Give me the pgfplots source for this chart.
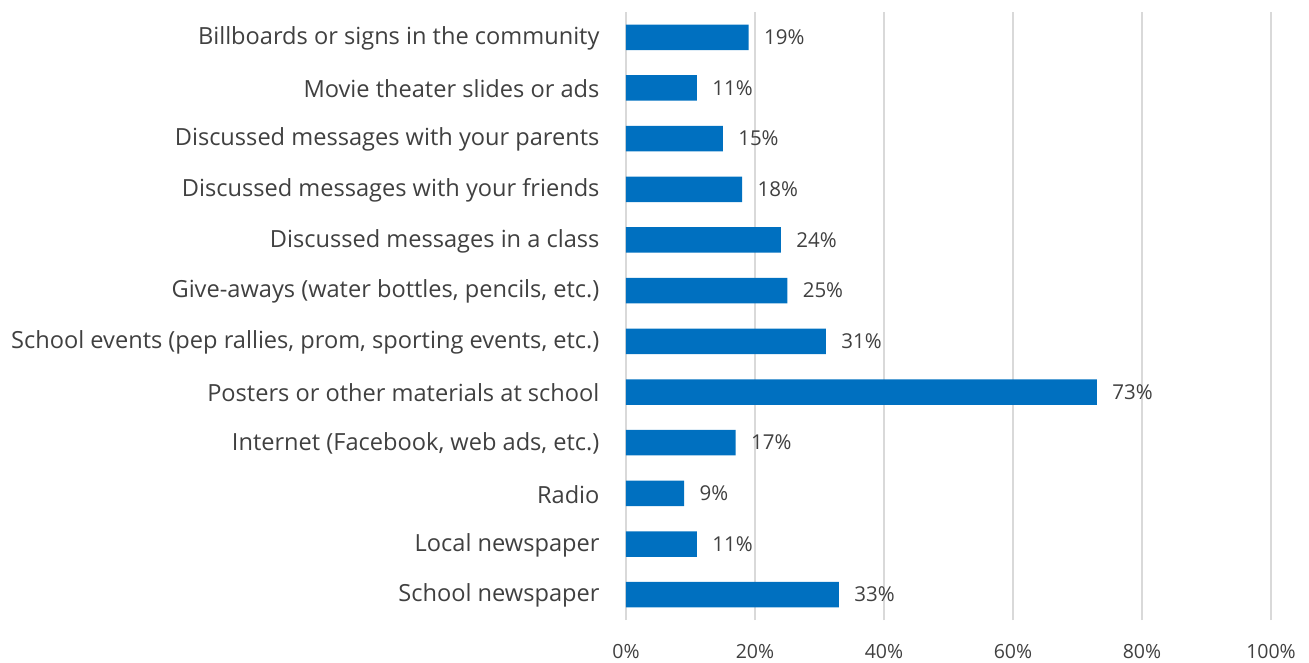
\documentclass[border=0pt]{standalone}
\usepackage{pgfplots}
\pgfplotsset{compat=1.18}
\usepackage{fontspec}
\setmainfont{Open Sans}
\definecolor{barblue}{HTML}{0070C0}
\definecolor{txt}{HTML}{404040}
\definecolor{gridgray}{HTML}{D9D9D9}
\begin{document}
\begin{tikzpicture}[x=1pt,y=1pt]
\useasboundingbox (0,0) rectangle (1309,662);
\begin{axis}[
  at={(626pt,42pt)}, anchor=south west,
  scale only axis, width=645pt, height=608pt,
  xbar, bar width=25.5pt,
  xmin=0, xmax=100, ymin=-0.5, ymax=11.5,
  xtick={0,20,40,60,80,100},
  xticklabel={\pgfmathprintnumber{\tick}\%},
  /pgf/number format/assume math mode=true,
  ytick={0,...,11},
  yticklabels={School newspaper, Local newspaper, Radio, {Internet (Facebook, web ads, etc.)}, Posters or other materials at school, {School events (pep rallies, prom, sporting events, etc.)}, {Give-aways (water bottles, pencils, etc.)}, Discussed messages in a class, Discussed messages with your friends, Discussed messages with your parents, Movie theater slides or ads, Billboards or signs in the community},
  xmajorgrids=true, ymajorgrids=false,
  grid style={draw=gridgray, line width=1.5pt},
  axis line style={draw=none},
  major tick style={draw=none},
  major tick length=0pt,
  yticklabel style={font=\fontsize{23.6}{25}\selectfont, text=txt, xshift=-23pt, yshift=-1pt},
  xticklabel style={font=\fontsize{19.5}{21}\selectfont, text=txt, yshift=-21pt},
  nodes near coords={\pgfmathprintnumber{\pgfplotspointmeta}\%},
  nodes near coords style={font=\fontsize{20.5}{22}\selectfont, text=txt, anchor=west, xshift=12pt},
  point meta=x,
  clip=false,
]
\addplot[fill=barblue, draw=none] coordinates {
(33,0) (11,1) (9,2) (17,3) (73,4) (31,5) (25,6) (24,7) (18,8) (15,9) (11,10) (19,11)
};
\end{axis}
\end{tikzpicture}
\end{document}
